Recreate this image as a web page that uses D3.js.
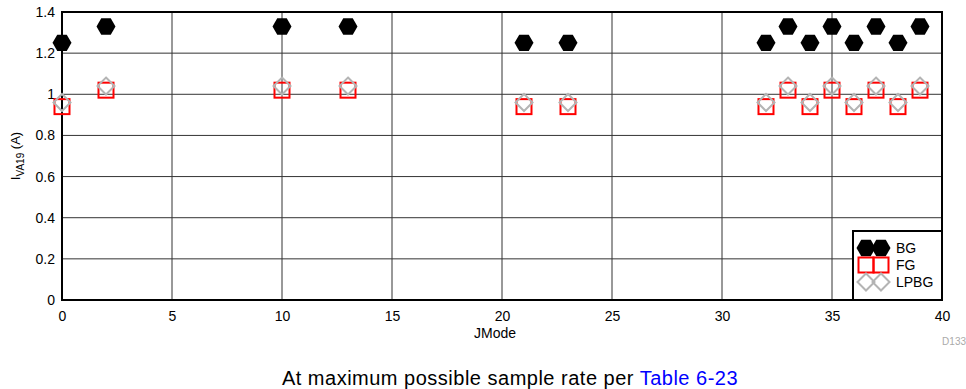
<!DOCTYPE html>
<html><head><meta charset="utf-8">
<script src="https://cdn.jsdelivr.net/npm/d3@7"></script>
<style>
html,body{margin:0;padding:0;background:#fff;}
svg{display:block;font-family:"Liberation Sans",Arial,sans-serif;}
</style></head>
<body>
<svg id="chart" width="966" height="389"></svg>
<script>
// ---- data ----
const jmode = [0, 2, 10, 13, 21, 23, 32, 33, 34, 35, 36, 37, 38, 39];
const bg    = [1.25, 1.33, 1.33, 1.33, 1.25, 1.25, 1.25, 1.33, 1.25, 1.33, 1.25, 1.33, 1.25, 1.33];
const fg    = [0.94, 1.02, 1.02, 1.02, 0.94, 0.94, 0.94, 1.02, 0.94, 1.02, 0.94, 1.02, 0.94, 1.02];
const lpbg  = [0.96, 1.04, 1.04, 1.04, 0.96, 0.96, 0.96, 1.04, 0.96, 1.04, 0.96, 1.04, 0.96, 1.04];
const xTicks = [0, 5, 10, 15, 20, 25, 30, 35, 40];
const yTicks = [0, 0.2, 0.4, 0.6, 0.8, 1, 1.2, 1.4];
const seriesNames = ["BG", "FG", "LPBG"];

const svg = d3.select("#chart");
const m = {l: 62, r: 942, t: 12, b: 300};
const x = d3.scaleLinear().domain([0, 40]).range([m.l, m.r]);
const y = d3.scaleLinear().domain([0, 1.4]).range([m.b, m.t]);

// grid
const g = svg.append("g");
g.selectAll(".vg").data(xTicks.slice(1, -1)).join("line")
  .attr("x1", d => x(d)).attr("x2", d => x(d)).attr("y1", m.t).attr("y2", m.b)
  .attr("stroke", "#333").attr("stroke-width", 1);
g.selectAll(".hg").data(yTicks.slice(1, -1)).join("line")
  .attr("y1", d => y(d)).attr("y2", d => y(d)).attr("x1", m.l).attr("x2", m.r)
  .attr("stroke", "#333").attr("stroke-width", 1);

// axes (labels only)
const xAxis = d3.axisBottom(x).tickValues(xTicks).tickSize(0).tickPadding(11).tickFormat(d3.format("d"));
const yAxis = d3.axisLeft(y).tickValues(yTicks).tickSize(0).tickPadding(7).tickFormat(d => d3.format("")(+d.toFixed(1)));
const gx = svg.append("g").attr("transform", `translate(0,${m.b})`).call(xAxis);
const gy = svg.append("g").attr("transform", `translate(${m.l},0)`).call(yAxis);
[gx, gy].forEach(a => {
  a.select(".domain").remove();
  a.selectAll("text").attr("font-size", 14).attr("fill", "#000").attr("font-family", "Liberation Sans, Arial, sans-serif");
});

// frame
svg.append("rect").attr("x", m.l).attr("y", m.t).attr("width", m.r - m.l).attr("height", m.b - m.t)
  .attr("fill", "none").attr("stroke", "#000").attr("stroke-width", 2);

// markers
const R = 9.5;
const hexPath = (cx, cy) => {
  const pts = d3.range(6).map(i => { const a = i * Math.PI / 3; return [cx + R * Math.cos(a), cy + R * Math.sin(a)]; });
  return "M" + pts.map(p => p.join(",")).join("L") + "Z";
};
const S = 15;
const D = 8.5;
const diamondPath = (cx, cy) => `M${cx},${cy - D}L${cx + D},${cy}L${cx},${cy + D}L${cx - D},${cy}Z`;

const pts = jmode.map((j, i) => ({j, bg: bg[i], fg: fg[i], lp: lpbg[i]}));
const mk = svg.append("g");
mk.selectAll(".bg").data(pts).join("path").attr("d", d => hexPath(x(d.j), y(d.bg))).attr("fill", "#000");
mk.selectAll(".fg").data(pts).join("rect")
  .attr("x", d => x(d.j) - S / 2).attr("y", d => y(d.fg) - S / 2).attr("width", S).attr("height", S)
  .attr("fill", "none").attr("stroke", "#f00").attr("stroke-width", 2);
mk.selectAll(".lp").data(pts).join("path").attr("d", d => diamondPath(x(d.j), y(d.lp)))
  .attr("fill", "none").attr("stroke", "#b4b4b4").attr("stroke-width", 2);

// legend
const lg = svg.append("g");
lg.append("rect").attr("x", 853).attr("y", 231).attr("width", 89).attr("height", 69)
  .attr("fill", "#fff").attr("stroke", "#000").attr("stroke-width", 2);
const lx = [866, 881];
const ly = [248, 265, 282];
lx.forEach(cx => {
  lg.append("path").attr("d", hexPath(cx, ly[0])).attr("fill", "#000");
  lg.append("rect").attr("x", cx - S / 2).attr("y", ly[1] - S / 2).attr("width", S).attr("height", S)
    .attr("fill", "none").attr("stroke", "#f00").attr("stroke-width", 2);
  lg.append("path").attr("d", diamondPath(cx, ly[2])).attr("fill", "none").attr("stroke", "#b4b4b4").attr("stroke-width", 2);
});
lg.selectAll(".lt").data(seriesNames).join("text")
  .attr("x", 896).attr("y", (d, i) => ly[i] + 5).attr("font-size", 14).text(d => d);

// axis titles
svg.append("text").attr("x", 495).attr("y", 338).attr("text-anchor", "middle").attr("font-size", 14).text("JMode");
const yt = svg.append("text").attr("transform", `translate(20,156) rotate(-90)`).attr("text-anchor", "middle").attr("font-size", 13);
yt.append("tspan").text("I");
yt.append("tspan").attr("font-size", 10).attr("dy", 4).text("VA19");
yt.append("tspan").attr("dy", -4).text(" (A)");

// footnote id
svg.append("text").attr("x", 966).attr("y", 345).attr("text-anchor", "end").attr("font-size", 10).attr("fill", "#aaa").text("D133");

// caption
const cap = svg.append("text").attr("x", 510).attr("y", 385).attr("text-anchor", "middle")
  .attr("font-size", 20).attr("letter-spacing", 0.5);
cap.append("tspan").attr("fill", "#000").text("At maximum possible sample rate per ");
cap.append("tspan").attr("fill", "#00f").text("Table 6-23");
</script>
</body></html>
